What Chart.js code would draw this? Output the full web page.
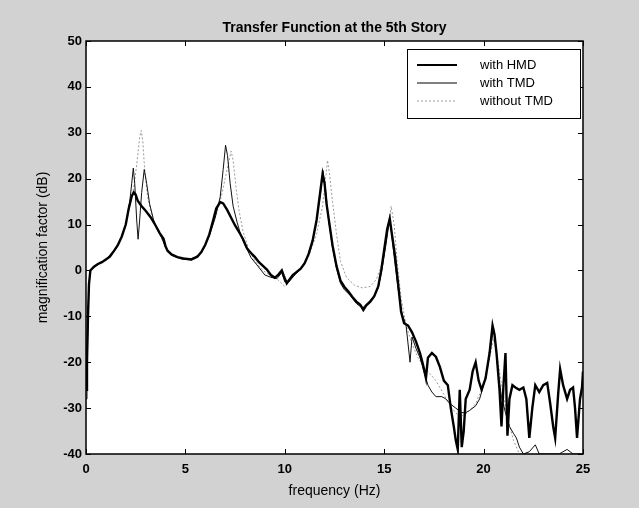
<!DOCTYPE html>
<html lang="en">

<head>
    <meta charset="UTF-8">
    <title>Transfer Function at the 5th Story</title>
    <style>
        html, body { margin: 0; padding: 0; background: #d2d2d2; }
        #wrap { width: 639px; height: 508px; }
    </style>
</head>

<body>
    <div id="wrap">
        <canvas id="myChart" width="639" height="508"></canvas>
    </div>
</body>

</html>

<script src="https://cdn.jsdelivr.net/npm/chart.js"></script>
<script>
    // values (frequency in Hz, magnification in dB)
    const freqHMD = [0, 0.05, 0.1, 0.15, 0.22, 0.4, 0.6, 0.8, 1.0, 1.2, 1.4, 1.6, 1.8, 2.0, 2.15, 2.3, 2.4, 2.5, 2.6, 2.8,
        3.0, 3.25, 3.5, 3.7, 3.9, 4.0, 4.1, 4.3, 4.6, 4.9, 5.3, 5.6, 5.8, 6.0, 6.2, 6.4, 6.55, 6.75, 6.9, 7.1,
        7.3, 7.5, 7.75, 7.9, 8.1, 8.3, 8.5, 8.7, 8.9, 9.1, 9.3, 9.5, 9.7, 9.85, 9.95, 10.1, 10.2, 10.4, 10.6, 10.8,
        11.0, 11.2, 11.4, 11.6, 11.75, 11.9, 12.0, 12.1, 12.25, 12.4, 12.6, 12.8, 13.0, 13.2, 13.4, 13.6, 13.8, 13.95, 14.1, 14.3,
        14.5, 14.7, 14.85, 15.0, 15.15, 15.28, 15.4, 15.55, 15.7, 15.85, 16.0, 16.2, 16.4, 16.6, 16.8, 16.95, 17.1, 17.2, 17.4, 17.6,
        17.8, 18.0, 18.2, 18.35, 18.5, 18.6, 18.7, 18.8, 18.9, 19.0, 19.1, 19.3, 19.45, 19.6, 19.75, 19.9, 20.1, 20.3, 20.45, 20.55,
        20.65, 20.8, 20.9, 21.0, 21.1, 21.2, 21.3, 21.45, 21.6, 21.8, 22.0, 22.15, 22.3, 22.45, 22.6, 22.8, 23.0, 23.2, 23.35, 23.5,
        23.6, 23.75, 23.85, 24.0, 24.2, 24.35, 24.5, 24.6, 24.7, 24.85, 24.95, 25.0];
    const magHMD = [-26, -20, -10, -3, 0, 0.8, 1.4, 1.8, 2.4, 3.0, 4.2, 5.5, 7.4, 10, 13.5, 16.2, 17, 16.5, 15.2, 14,
        13, 11.6, 9.8, 8.2, 6.9, 5.3, 4.3, 3.5, 2.9, 2.6, 2.4, 3.0, 4.0, 5.6, 7.8, 11, 13.5, 14.9, 14.6, 13.2,
        11.5, 9.8, 8.0, 6.8, 4.8, 3.8, 2.9, 1.8, 1.0, 0.2, -1.0, -1.6, -0.8, 0, -1.2, -2.8, -2.2, -1.0, -0.3, 0.4,
        1.6, 3.6, 6.5, 11, 16, 21, 19, 14.5, 10, 5.5, 1.0, -2.2, -3.6, -4.6, -5.8, -6.8, -7.5, -8.6, -7.6, -6.8,
        -5.6, -3.5, 0, 4.5, 9, 11.3, 7.5, 3, -3, -9, -11.5, -12, -13.5, -15.5, -18, -20.5, -23.5, -19, -18, -18.8,
        -21, -24, -25, -30, -34, -37, -39, -26, -38.5, -35, -28, -26, -22, -20, -24, -26, -23.5, -18, -12, -14,
        -18, -26, -34, -25, -18, -36, -28, -25, -25.5, -26, -25.5, -28, -36.5, -30, -25, -26.5, -25, -24.5, -29, -34,
        -36.5, -27, -21.5, -25, -28, -26, -25.5, -30, -36.5, -28, -25.5, -22];

    const freqTMD = [0, 0.05, 0.1, 0.15, 0.22, 0.5, 1.0, 1.5, 1.8, 2.0, 2.2, 2.3, 2.38, 2.45, 2.55, 2.62, 2.7, 2.8, 2.93, 3.05,
        3.2, 3.4, 3.6, 3.8, 4.0, 4.3, 4.8, 5.3, 5.8, 6.2, 6.5, 6.75, 6.9, 7.02, 7.12, 7.25, 7.4, 7.6, 7.8, 8.0,
        8.3, 8.6, 9.0, 9.3, 9.6, 9.85, 10.0, 10.2, 10.5, 10.8, 11.1, 11.4, 11.6, 11.8, 11.92, 12.05, 12.2, 12.4, 12.6, 12.8,
        13.0, 13.3, 13.6, 13.9, 14.2, 14.5, 14.7, 14.9, 15.1, 15.25, 15.35, 15.5, 15.7, 15.9, 16.1, 16.3, 16.4, 16.6, 16.8, 17.0,
        17.2, 17.4, 17.6, 17.9, 18.1, 18.3, 18.6, 18.9, 19.1, 19.3, 19.6, 19.8, 20.0, 20.2, 20.35, 20.5, 20.6, 20.75, 20.9, 21.1,
        21.3, 21.5, 21.65, 21.8, 22.0, 22.3, 22.6, 22.8, 23.2, 23.5, 23.8, 24.2, 24.5, 25.0];
    const magTMD = [-28, -20, -10, -3, 0, 1.0, 2.4, 4.8, 7.4, 10, 15, 19, 22.3, 19, 11, 6.8, 11, 17, 22, 19,
        14.5, 11, 8.8, 7.2, 5.0, 3.3, 2.5, 2.3, 3.8, 7.5, 11.5, 16, 22, 27.3, 25, 19, 14, 10.5, 7.5, 5.5,
        2.8, 1.2, -1.0, -1.5, -1.8, -0.5, -2.5, -2.5, -1.0, 0.3, 2.5, 6.5, 11, 17, 21.8, 17.5, 11, 5, 0.5, -2.8,
        -4.2, -5.5, -7.2, -8.2, -7.0, -5.5, -3.8, 0.5, 6, 10.5, 9, 3, -4, -9.5, -12, -20, -14.5, -17, -19, -22,
        -25, -26.5, -27.5, -27.5, -28, -29, -30, -31, -31, -30.5, -29.5, -28, -25, -21, -17, -12.5, -16, -23, -27.5, -31,
        -34, -35.5, -36.5, -38.5, -40, -39.5, -38, -40, -40, -40, -40, -39, -40, -40];

    const freqNone = [0, 0.05, 0.1, 0.15, 0.22, 0.6, 1.0, 1.5, 1.8, 2.0, 2.2, 2.4, 2.55, 2.7, 2.78, 2.86, 2.95, 3.1, 3.3, 3.5,
        3.8, 4.1, 4.5, 5.0, 5.5, 5.9, 6.2, 6.5, 6.8, 7.0, 7.15, 7.3, 7.4, 7.55, 7.7, 7.9, 8.2, 8.5, 8.9, 9.3,
        9.6, 10.0, 10.3, 10.8, 11.2, 11.6, 11.9, 12.05, 12.15, 12.25, 12.4, 12.6, 12.8, 13.1, 13.5, 13.9, 14.3, 14.6, 14.9, 15.15,
        15.35, 15.5, 15.65, 15.85, 16.1, 16.4, 16.7, 17.0, 17.3, 17.6, 18.0, 18.4, 18.8, 19.2, 19.6, 20.0, 20.3, 20.5, 20.7, 20.9,
        21.2, 21.5, 21.8, 25.0];
    const magNone = [-30, -22, -12, -3, 0, 1.3, 2.4, 4.8, 7.5, 10, 14, 18, 23, 29, 30.5, 28, 22, 16, 12, 9.5,
        7, 4.5, 3, 2.5, 2.8, 4.5, 7.5, 11.5, 16, 20, 23, 26, 24, 18, 13, 8.5, 4.5, 2, 0, -1.2,
        -1.8, -3.5, -2, 0.5, 3, 8, 14, 20, 24, 21, 15, 8, 2, -1.5, -3.2, -3.8, -3.5, -2, 1.5, 8,
        14, 10, 2, -6, -12, -16, -19, -21, -22.5, -24, -27, -30, -32, -31, -29, -25, -19, -15, -19, -25,
        -32, -37, -40, -40];

    const seriesNames = ['with HMD', 'with TMD', 'without TMD'];
    const xTicks = [0, 5, 10, 15, 20, 25];
    const yTicks = [-40, -30, -20, -10, 0, 10, 20, 30, 40, 50];
    const titulo = 'Transfer Function at the 5th Story';

    const fonte = '"Liberation Sans", Arial, sans-serif';

    function pares(xs, ys) {
        return xs.map(function (x, i) { return { x: x, y: ys[i] }; });
    }

    const fundo = {
        id: 'fundo',
        beforeDraw(chart) {
            const c = chart.ctx, a = chart.chartArea;
            c.save();
            c.fillStyle = '#d2d2d2';
            c.fillRect(0, 0, chart.width, chart.height);
            c.fillStyle = '#ffffff';
            c.fillRect(a.left, a.top, a.right - a.left, a.bottom - a.top);
            c.restore();
        }
    };

    // MATLAB-like box with inward ticks, title over the axes, legend box in the upper right
    const moldura = {
        id: 'moldura',
        afterDraw(chart) {
            const c = chart.ctx, a = chart.chartArea;
            const sx = chart.scales.x, sy = chart.scales.y;
            c.save();
            c.strokeStyle = '#000';
            c.lineWidth = 1;
            c.beginPath();
            xTicks.forEach(function (v) {
                const px = Math.round(sx.getPixelForValue(v)) + 0.5;
                c.moveTo(px, a.bottom); c.lineTo(px, a.bottom - 5);
                c.moveTo(px, a.top); c.lineTo(px, a.top + 5);
            });
            yTicks.forEach(function (v) {
                const py = Math.round(sy.getPixelForValue(v)) + 0.5;
                c.moveTo(a.left, py); c.lineTo(a.left + 5, py);
                c.moveTo(a.right, py); c.lineTo(a.right - 5, py);
            });
            c.stroke();
            c.lineWidth = 1.5;
            c.strokeRect(a.left, a.top, a.right - a.left, a.bottom - a.top);

            c.fillStyle = '#000';
            c.font = 'bold 14px ' + fonte;
            c.textAlign = 'center';
            c.textBaseline = 'middle';
            c.fillText(titulo, (a.left + a.right) / 2, 28);

            // legend
            const lx = 407, ly = 49, lw = 173, lh = 69;
            c.fillStyle = '#fff';
            c.fillRect(lx, ly, lw, lh);
            c.lineWidth = 1;
            c.strokeRect(lx + 0.5, ly + 0.5, lw, lh);
            const estilos = [
                { cor: '#000', larg: 2.2, dash: [] },
                { cor: '#000', larg: 1, dash: [] },
                { cor: '#9a9a9a', larg: 1, dash: [2, 2] }
            ];
            c.font = '13px ' + fonte;
            c.textAlign = 'left';
            seriesNames.forEach(function (nome, i) {
                const y = ly + 16 + i * 18;
                c.strokeStyle = estilos[i].cor;
                c.lineWidth = estilos[i].larg;
                c.setLineDash(estilos[i].dash);
                c.beginPath();
                c.moveTo(417, y); c.lineTo(457, y);
                c.stroke();
                c.setLineDash([]);
                c.fillStyle = '#000';
                c.fillText(nome, 480, y);
            });
            c.restore();
        }
    };

    const ctx = document.getElementById('myChart');

    new Chart(ctx, {
        type: 'line',
        data: {
            datasets: [{
                label: seriesNames[0],
                data: pares(freqHMD, magHMD),
                borderColor: '#000',
                borderWidth: 2.4
            }, {
                label: seriesNames[1],
                data: pares(freqTMD, magTMD),
                borderColor: '#111',
                borderWidth: 1
            }, {
                label: seriesNames[2],
                data: pares(freqNone, magNone),
                borderColor: '#9a9a9a',
                borderWidth: 1,
                borderDash: [2, 2]
            }]
        },
        options: {
            responsive: false,
            animation: false,
            devicePixelRatio: 1,
            elements: {
                point: { radius: 0 },
                line: { tension: 0, fill: false }
            },
            layout: {
                padding: { top: 41, right: 56, bottom: 0, left: 0 }
            },
            plugins: {
                legend: { display: false },
                tooltip: { enabled: false },
                title: { display: false }
            },
            scales: {
                x: {
                    type: 'linear',
                    min: 0,
                    max: 25,
                    afterFit: function (scale) { scale.height = 54; },
                    afterBuildTicks: function (scale) {
                        scale.ticks = xTicks.map(function (v) { return { value: v }; });
                    },
                    grid: { display: false, drawTicks: false },
                    border: { display: false },
                    ticks: {
                        padding: 8,
                        color: '#000',
                        font: { family: fonte, size: 13, weight: 'bold' }
                    },
                    title: {
                        display: true,
                        text: 'frequency (Hz)',
                        color: '#000',
                        font: { family: fonte, size: 14 },
                        padding: { top: 0, bottom: 8 }
                    }
                },
                y: {
                    min: -40,
                    max: 50,
                    afterFit: function (scale) { scale.width = 86; },
                    afterBuildTicks: function (scale) {
                        scale.ticks = yTicks.map(function (v) { return { value: v }; });
                    },
                    grid: { display: false, drawTicks: false },
                    border: { display: false },
                    ticks: {
                        padding: 4,
                        color: '#000',
                        font: { family: fonte, size: 13, weight: 'bold' }
                    },
                    title: {
                        display: true,
                        text: 'magnification factor (dB)',
                        color: '#000',
                        font: { family: fonte, size: 14 },
                        padding: { top: 35, bottom: 0 }
                    }
                }
            }
        },
        plugins: [fundo, moldura]
    });
</script>
